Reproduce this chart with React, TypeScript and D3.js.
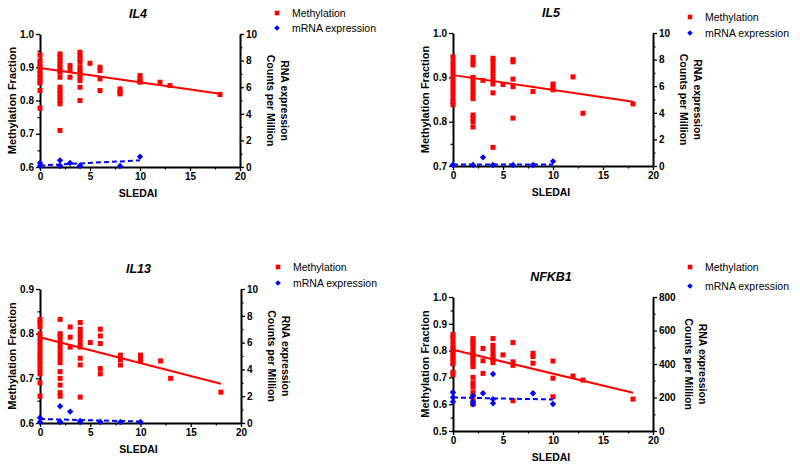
import React, { useEffect, useRef } from "react";
import * as d3 from "d3";

// ---------- DATA ----------
const SLEDAI_TICKS = [0, 5, 10, 15, 20];

// Methylation fraction grouped by SLEDAI score: [SLEDAI, values[]]
const IL4_METH: [number, number[]][] = [
  [0, [0.937, 0.92, 0.91, 0.9, 0.89, 0.88, 0.87, 0.86, 0.853, 0.83, 0.777]],
  [2, [0.94, 0.93, 0.92, 0.91, 0.9, 0.89, 0.885, 0.87, 0.84, 0.83, 0.82, 0.81, 0.8, 0.79, 0.71]],
  [3, [0.905, 0.89, 0.87]],
  [4, [0.945, 0.935, 0.925, 0.915, 0.9, 0.89, 0.88, 0.87, 0.86, 0.84, 0.8]],
  [5, [0.912]],
  [6, [0.9, 0.89, 0.865, 0.83]],
  [8, [0.835, 0.825, 0.82]],
  [10, [0.875, 0.865, 0.858, 0.855]],
  [12, [0.855]],
  [13, [0.845]],
  [18, [0.818]],
];
const IL4_MRNA: [number, number[]][] = [
  [0, [0.3, 0.0]],
  [2, [0.5, 0.1, 0.0]],
  [3, [0.3]],
  [4, [0.1, 0.0]],
  [8, [0.05]],
  [10, [0.78]],
];
const IL4_METH_FIT = [0.898, 0.82];
const IL4_MRNA_FIT = [0.03, 0.5];

const IL5_METH: [number, number[]][] = [
  [0, [0.946, 0.935, 0.925, 0.915, 0.905, 0.895, 0.885, 0.875, 0.865, 0.855, 0.845, 0.838]],
  [2, [0.945, 0.935, 0.928, 0.9, 0.89, 0.88, 0.87, 0.86, 0.852, 0.815, 0.808, 0.8, 0.788]],
  [3, [0.893]],
  [4, [0.943, 0.935, 0.925, 0.915, 0.905, 0.895, 0.885, 0.865, 0.742]],
  [5, [0.884]],
  [6, [0.94, 0.935, 0.896, 0.879, 0.808]],
  [8, [0.868]],
  [10, [0.885, 0.878, 0.872]],
  [12, [0.901]],
  [13, [0.819]],
  [18, [0.84]],
];
const IL5_MRNA: [number, number[]][] = [
  [0, [0.05, 0.0]],
  [2, [0.03]],
  [3, [0.65]],
  [4, [0.03]],
  [6, [0.05]],
  [8, [0.0]],
  [10, [0.35]],
];
const IL5_METH_FIT = [0.905, 0.845];
const IL5_MRNA_FIT = [0.05, 0.05];

const IL13_METH: [number, number[]][] = [
  [0, [0.832, 0.825, 0.815, 0.8, 0.79, 0.78, 0.77, 0.76, 0.75, 0.74, 0.73, 0.72, 0.71, 0.69, 0.66]],
  [2, [0.832, 0.8, 0.795, 0.785, 0.775, 0.765, 0.755, 0.745, 0.735, 0.715, 0.7, 0.685, 0.668, 0.66]],
  [3, [0.815, 0.792, 0.77]],
  [4, [0.825, 0.81, 0.8, 0.79, 0.78, 0.77, 0.745, 0.73, 0.658]],
  [5, [0.78]],
  [6, [0.81, 0.795, 0.778, 0.722, 0.71]],
  [8, [0.752, 0.742, 0.73]],
  [10, [0.752, 0.745, 0.738]],
  [12, [0.739]],
  [13, [0.7]],
  [18, [0.669]],
];
const IL13_MRNA: [number, number[]][] = [
  [0, [0.4, 0.0]],
  [2, [1.25, 0.1, 0.0]],
  [3, [0.85]],
  [4, [0.15, 0.05]],
  [6, [0.05]],
  [8, [0.02]],
  [10, [0.0]],
];
const IL13_METH_FIT = [0.792, 0.688];
const IL13_MRNA_FIT = [0.3, 0.0];

const NFKB1_METH: [number, number[]][] = [
  [0, [0.86, 0.85, 0.835, 0.82, 0.81, 0.8, 0.79, 0.78, 0.77, 0.76, 0.75, 0.72, 0.71]],
  [2, [0.845, 0.835, 0.825, 0.815, 0.8, 0.79, 0.78, 0.77, 0.76, 0.75, 0.74, 0.7, 0.68, 0.665, 0.645, 0.63, 0.61, 0.6]],
  [3, [0.808, 0.762, 0.715]],
  [4, [0.845, 0.82, 0.805, 0.79, 0.775, 0.765, 0.755]],
  [5, [0.784]],
  [6, [0.83, 0.758, 0.745, 0.613]],
  [8, [0.79, 0.778, 0.753]],
  [10, [0.761, 0.697, 0.628]],
  [12, [0.705]],
  [13, [0.69]],
  [18, [0.619]],
];
const NFKB1_MRNA: [number, number[]][] = [
  [0, [230, 200, 175]],
  [2, [210, 175, 160]],
  [3, [225]],
  [4, [340, 190, 165]],
  [8, [225]],
  [10, [161]],
];
const NFKB1_METH_FIT = [0.803, 0.643];
const NFKB1_MRNA_FIT = [200, 188];

const FIT_X = [0, 18];
const MRNA_FIT_X = [0, 10];

const LEFT_TICKS_IL4 = [0.6, 0.7, 0.8, 0.9, 1.0];
const LEFT_TICKS_IL5 = [0.7, 0.8, 0.9, 1.0];
const LEFT_TICKS_IL13 = [0.6, 0.7, 0.8, 0.9];
const LEFT_TICKS_NFKB1 = [0.5, 0.6, 0.7, 0.8, 0.9, 1.0];
const RIGHT_TICKS_CPM = [0, 2, 4, 6, 8, 10];
const RIGHT_TICKS_NFKB1 = [0, 200, 400, 600, 800];

const LEGEND_LABELS = ["Methylation", "mRNA expression"];

// ---------- LAYOUT ----------
const FONT = "'Liberation Sans', Arial, Helvetica, sans-serif";
const RED = "#ff0000";
const BLUE = "#0000ff";

type Panel = {
  title: string;
  meth: [number, number[]][];
  mrna: [number, number[]][];
  methFit: number[];
  mrnaFit: number[];
  leftTicks: number[];
  rightTicks: number[];
  x0: number; x1: number; y0: number; y1: number;
  legendDy: [number, number];
  rightLabelOff: number;
};

const PANELS: Panel[] = [
  { title: "IL4", meth: IL4_METH, mrna: IL4_MRNA, methFit: IL4_METH_FIT, mrnaFit: IL4_MRNA_FIT,
    leftTicks: LEFT_TICKS_IL4, rightTicks: RIGHT_TICKS_CPM,
    x0: 40, x1: 240, y0: 34, y1: 167, legendDy: [-21, -6], rightLabelOff: 45 },
  { title: "IL5", meth: IL5_METH, mrna: IL5_MRNA, methFit: IL5_METH_FIT, mrnaFit: IL5_MRNA_FIT,
    leftTicks: LEFT_TICKS_IL5, rightTicks: RIGHT_TICKS_CPM,
    x0: 453, x1: 653, y0: 33, y1: 166, legendDy: [-16, 0], rightLabelOff: 45 },
  { title: "IL13", meth: IL13_METH, mrna: IL13_MRNA, methFit: IL13_METH_FIT, mrnaFit: IL13_MRNA_FIT,
    leftTicks: LEFT_TICKS_IL13, rightTicks: RIGHT_TICKS_CPM,
    x0: 40, x1: 241, y0: 289, y1: 423, legendDy: [-22, -6], rightLabelOff: 45 },
  { title: "NFKB1", meth: NFKB1_METH, mrna: NFKB1_MRNA, methFit: NFKB1_METH_FIT, mrnaFit: NFKB1_MRNA_FIT,
    leftTicks: LEFT_TICKS_NFKB1, rightTicks: RIGHT_TICKS_NFKB1,
    x0: 453, x1: 653, y0: 297, y1: 431, legendDy: [-30, -11], rightLabelOff: 50 },
];

function midpoints(t: number[]) {
  const out: number[] = [];
  for (let i = 0; i < t.length - 1; i++) out.push((t[i] + t[i + 1]) / 2);
  return out;
}

const diamondPath = (r: number) => `M0,${-r}L${r},0L0,${r}L${-r},0Z`;

function drawPanel(svg: d3.Selection<SVGSVGElement, unknown, null, undefined>, p: Panel) {
  const g = svg.append("g");
  const x = d3.scaleLinear().domain([SLEDAI_TICKS[0], SLEDAI_TICKS[SLEDAI_TICKS.length - 1]]).range([p.x0, p.x1]);
  const yL = d3.scaleLinear().domain([p.leftTicks[0], p.leftTicks[p.leftTicks.length - 1]]).range([p.y1, p.y0]);
  const yR = d3.scaleLinear().domain([p.rightTicks[0], p.rightTicks[p.rightTicks.length - 1]]).range([p.y1, p.y0]);

  const styleAxis = (sel: d3.Selection<SVGGElement, unknown, null, undefined>) => {
    sel.selectAll(".domain").attr("stroke", "#000").attr("stroke-width", 2);
    sel.selectAll(".tick line").attr("stroke", "#000").attr("stroke-width", 1.3);
    sel.selectAll(".tick text").attr("font-family", FONT).attr("font-weight", "bold").attr("font-size", 10).attr("fill", "#000");
  };

  // minor ticks
  g.append("g").attr("transform", `translate(${p.x0},0)`)
    .call(d3.axisLeft(yL).tickValues(midpoints(p.leftTicks)).tickSize(2.5).tickFormat(() => ""))
    .call((s) => { s.select(".domain").remove(); s.selectAll(".tick line").attr("stroke", "#000").attr("stroke-width", 1.2); });
  g.append("g").attr("transform", `translate(${p.x1},0)`)
    .call(d3.axisRight(yR).tickValues(midpoints(p.rightTicks)).tickSize(2.5).tickFormat(() => ""))
    .call((s) => { s.select(".domain").remove(); s.selectAll(".tick line").attr("stroke", "#000").attr("stroke-width", 1.2); });
  g.append("g").attr("transform", `translate(0,${p.y1})`)
    .call(d3.axisBottom(x).tickValues(midpoints(SLEDAI_TICKS)).tickSize(2.5).tickFormat(() => ""))
    .call((s) => { s.select(".domain").remove(); s.selectAll(".tick line").attr("stroke", "#000").attr("stroke-width", 1.2); });

  // major axes
  g.append("g").attr("transform", `translate(${p.x0},0)`)
    .call(d3.axisLeft(yL).tickValues(p.leftTicks).tickSize(4).tickSizeOuter(0).tickPadding(2).tickFormat(d3.format(".1f") as any))
    .call(styleAxis);
  g.append("g").attr("transform", `translate(${p.x1},0)`)
    .call(d3.axisRight(yR).tickValues(p.rightTicks).tickSize(4).tickSizeOuter(0).tickPadding(2).tickFormat(d3.format("d") as any))
    .call(styleAxis);
  g.append("g").attr("transform", `translate(0,${p.y1})`)
    .call(d3.axisBottom(x).tickValues(SLEDAI_TICKS).tickSize(4).tickSizeOuter(0).tickPadding(2).tickFormat(d3.format("d") as any))
    .call(styleAxis);

  // methylation points
  const methPts = p.meth.flatMap(([s, vals]) => vals.map((v) => [s, v]));
  g.append("g").selectAll("rect").data(methPts).join("rect")
    .attr("x", (d) => x(d[0]) - 2.5).attr("y", (d) => yL(d[1]) - 2.5)
    .attr("width", 5).attr("height", 5).attr("fill", RED);

  // methylation fit
  const line = d3.line<number[]>().x((d) => x(d[0])).y((d) => yL(d[1]));
  g.append("path").attr("d", line(FIT_X.map((fx, i) => [fx, p.methFit[i]])))
    .attr("stroke", RED).attr("stroke-width", 2).attr("fill", "none");

  // mrna points
  const mrnaPts = p.mrna.flatMap(([s, vals]) => vals.map((v) => [s, v]));
  g.append("g").selectAll("path").data(mrnaPts).join("path")
    .attr("d", diamondPath(3.2))
    .attr("transform", (d) => `translate(${x(d[0])},${Math.min(yR(d[1]), p.y1 - 1)})`)
    .attr("fill", BLUE);

  const lineR = d3.line<number[]>().x((d) => x(d[0])).y((d) => Math.min(yR(d[1]), p.y1 - 1.5));
  g.append("path").attr("d", lineR(MRNA_FIT_X.map((fx, i) => [fx, p.mrnaFit[i]])))
    .attr("stroke", BLUE).attr("stroke-width", 2).attr("stroke-dasharray", "5,3").attr("fill", "none");

  const cx = (p.x0 + p.x1) / 2 - 2;
  const cy = (p.y0 + p.y1) / 2;

  // title
  g.append("text").attr("x", cx).attr("y", p.y0 - 16).attr("text-anchor", "middle")
    .attr("font-family", FONT).attr("font-weight", "bold").attr("font-style", "italic").attr("font-size", 12.5)
    .text(p.title);
  // x label
  g.append("text").attr("x", cx).attr("y", p.y1 + 30).attr("text-anchor", "middle")
    .attr("font-family", FONT).attr("font-weight", "bold").attr("font-size", 10.5)
    .text("SLEDAI");
  // left label
  g.append("text").attr("transform", `translate(${p.x0 - 28},${cy}) rotate(-90)`).attr("dy", "0.35em")
    .attr("text-anchor", "middle").attr("font-family", FONT).attr("font-weight", "bold").attr("font-size", 11)
    .text("Methylation Fraction");
  // right labels
  g.append("text").attr("transform", `translate(${p.x1 + p.rightLabelOff},${cy}) rotate(90)`).attr("dy", "0.35em")
    .attr("text-anchor", "middle").attr("font-family", FONT).attr("font-weight", "bold").attr("font-size", 10.5)
    .text("RNA expression");
  g.append("text").attr("transform", `translate(${p.x1 + p.rightLabelOff - 14},${cy}) rotate(90)`).attr("dy", "0.35em")
    .attr("text-anchor", "middle").attr("font-family", FONT).attr("font-weight", "bold").attr("font-size", 10.5)
    .text("Counts per Million");

  // legend
  const lx = p.x1 + 37;
  const ly1 = p.y0 + p.legendDy[0];
  const ly2 = p.y0 + p.legendDy[1];
  g.append("rect").attr("x", lx - 2.3).attr("y", ly1 - 2.3).attr("width", 4.6).attr("height", 4.6).attr("fill", RED);
  g.append("path").attr("d", diamondPath(2.8)).attr("transform", `translate(${lx},${ly2})`).attr("fill", BLUE);
  g.append("text").attr("x", lx + 15).attr("y", ly1).attr("dy", "0.35em")
    .attr("font-family", FONT).attr("font-size", 10.5).text(LEGEND_LABELS[0]);
  g.append("text").attr("x", lx + 15).attr("y", ly2).attr("dy", "0.35em")
    .attr("font-family", FONT).attr("font-size", 10.5).text(LEGEND_LABELS[1]);
}

export default function App() {
  const ref = useRef<SVGSVGElement>(null);
  useEffect(() => {
    if (!ref.current) return;
    const svg = d3.select(ref.current);
    svg.selectAll("*").remove();
    PANELS.forEach((p) => drawPanel(svg as any, p));
  }, []);
  return (
    <svg
      ref={ref}
      width={800}
      height={468}
      style={{ position: "absolute", left: 0, top: 0, background: "#fff" }}
    />
  );
}
